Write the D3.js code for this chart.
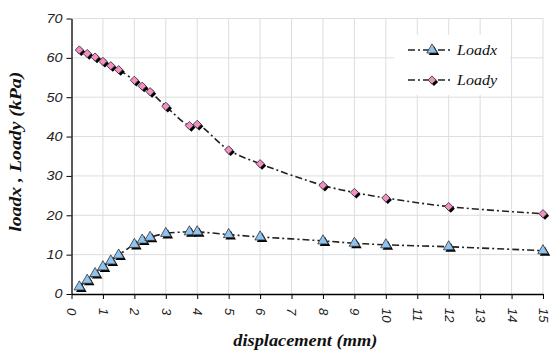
<html>
<head>
<script src="https://d3js.org/d3.v7.min.js"></script>
<style>
  body { margin: 0; background: #fff; }
  .tick text { font-family: "Liberation Sans", Arial, sans-serif; font-style: italic; fill: #222; }
  .serif { font-family: "Liberation Serif", "DejaVu Serif", serif; font-style: italic; fill: #111; }
</style>
</head>
<body>
<svg id="chart" width="551" height="352"></svg>
<script>
  // data
  var dispX = [0.25, 0.5, 0.75, 1.0, 1.25, 1.5, 2.0, 2.25, 2.5, 3.0, 3.75, 4.0, 5, 6, 8, 9, 10, 12, 15];
  var loadx = [1.8, 3.5, 5.2, 6.9, 8.4, 9.9, 12.6, 13.7, 14.4, 15.4, 15.8, 15.8, 15.1, 14.5, 13.5, 12.9, 12.5, 12.0, 11.0];
  var loady = [62.0, 61.1, 60.2, 59.1, 58.0, 57.0, 54.3, 52.8, 51.4, 47.7, 42.8, 43.1, 36.6, 33.1, 27.6, 25.8, 24.4, 22.2, 20.4];
  var xTicks = d3.range(0, 16);
  var yTicks = [0, 10, 20, 30, 40, 50, 60, 70];
  var seriesNames = ["Loadx", "Loady"];

  var margin = {top: 18.5, right: 8, bottom: 58, left: 71.5},
      width = 551 - margin.left - margin.right,
      height = 352 - margin.top - margin.bottom;

  var svg = d3.select("#chart")
    .append("g")
      .attr("transform", "translate(" + margin.left + "," + margin.top + ")");

  var x = d3.scaleLinear().domain([0, 15]).range([0, width]);
  var y = d3.scaleLinear().domain([0, 70]).range([height, 0]);

  // grid
  svg.append("g").selectAll("line")
    .data(xTicks.slice(1))
    .enter().append("line")
      .attr("x1", function(d) { return x(d); }).attr("x2", function(d) { return x(d); })
      .attr("y1", 0).attr("y2", height)
      .attr("stroke", "#ddd").attr("stroke-width", 1);
  svg.append("g").selectAll("line")
    .data(yTicks.slice(1))
    .enter().append("line")
      .attr("x1", 0).attr("x2", width)
      .attr("y1", function(d) { return y(d); }).attr("y2", function(d) { return y(d); })
      .attr("stroke", "#ddd").attr("stroke-width", 1);

  // axes
  var xAxis = svg.append("g")
    .attr("transform", "translate(0," + height + ")")
    .call(d3.axisBottom(x).tickValues(xTicks).tickSize(5).tickSizeOuter(0));
  xAxis.selectAll("text")
    .attr("transform", "rotate(90)")
    .attr("x", 14).attr("y", 0).attr("dy", "0.35em")
    .style("font-size", "13px")
    .style("text-anchor", "start");

  var yAxis = svg.append("g")
    .call(d3.axisLeft(y).tickValues(yTicks).tickSize(5).tickSizeOuter(0));
  yAxis.selectAll("text")
    .attr("x", 0)
    .attr("transform", "translate(-9,0) scale(1.2,1)")
    .style("font-size", "12px");

  svg.selectAll(".domain").attr("stroke", "#000").attr("stroke-width", 1.3);
  svg.selectAll(".tick line").attr("stroke", "#000");

  // axis titles
  svg.append("text")
    .attr("class", "serif")
    .attr("x", width / 2 - 2).attr("y", height + 52)
    .attr("text-anchor", "middle")
    .attr("textLength", 144).attr("lengthAdjust", "spacingAndGlyphs")
    .style("font-weight", "bold").style("font-size", "16px")
    .text("displacement (mm)");
  svg.append("text")
    .attr("class", "serif")
    .attr("transform", "translate(" + (-51) + "," + (height / 2 - 4.5) + ") rotate(-90)")
    .attr("text-anchor", "middle")
    .attr("textLength", 160).attr("lengthAdjust", "spacingAndGlyphs")
    .style("font-weight", "bold").style("font-size", "16px")
    .text("loadx , Loady (kPa)");

  var line = d3.line()
    .curve(d3.curveCatmullRom.alpha(0.5))
    .x(function(d) { return x(d[0]); })
    .y(function(d) { return y(d[1]); });

  var triangle = d3.symbol().type(d3.symbolTriangle).size(48);
  var diamond = d3.symbol().type(d3.symbolSquare).size(34);

  function drawMarker(g, px, py, kind) {
    var sym = kind == "x" ? triangle() : diamond();
    var rot = kind == "x" ? "" : " rotate(45)";
    g.append("path").attr("d", sym)
      .attr("transform", "translate(" + (px + 2) + "," + (py + 2) + ")" + rot)
      .attr("fill", "#000");
    g.append("path").attr("d", sym)
      .attr("transform", "translate(" + px + "," + py + ")" + rot)
      .attr("fill", kind == "x" ? "#8fc3f0" : "#f48ec4")
      .attr("stroke", "#333").attr("stroke-width", 0.8);
  }

  var sets = [
    {kind: "x", data: dispX.map(function(d, i) { return [d, loadx[i]]; })},
    {kind: "y", data: dispX.map(function(d, i) { return [d, loady[i]]; })}
  ];

  sets.forEach(function(s) {
    svg.append("path")
      .datum(s.data)
      .attr("fill", "none")
      .attr("stroke", "#222")
      .attr("stroke-width", 1.6)
      .attr("stroke-dasharray", "7,3,2,3")
      .attr("d", line);
    var g = svg.append("g");
    s.data.forEach(function(d) { drawMarker(g, x(d[0]), y(d[1]), s.kind); });
  });

  // legend
  var lg = d3.select("#chart").append("g");
  lg.append("rect").attr("x", 394).attr("y", 35).attr("width", 116).attr("height", 60).attr("fill", "#fff");
  seriesNames.forEach(function(name, i) {
    var ly = 50 + i * 30;
    lg.append("line").attr("x1", 408).attr("x2", 452).attr("y1", ly).attr("y2", ly)
      .attr("stroke", "#222").attr("stroke-width", 1.6).attr("stroke-dasharray", "7,3,2,3");
    drawMarker(lg, 432, ly, i == 0 ? "x" : "y");
    lg.append("text").attr("class", "serif").attr("x", 457).attr("y", ly + 5)
      .attr("textLength", 40).attr("lengthAdjust", "spacingAndGlyphs")
      .style("font-size", "15px")
      .text(name);
  });
</script>
</body>
</html>
